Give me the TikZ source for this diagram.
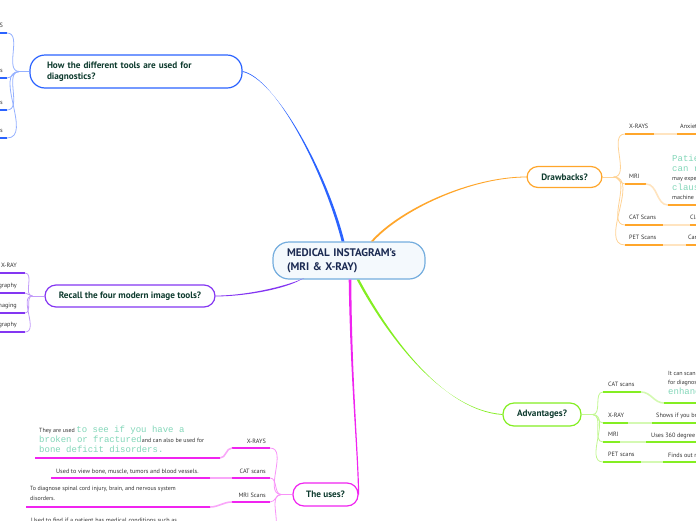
\documentclass[tikz,border=0pt]{standalone}
\usepackage{fontspec}
\setmainfont{PT Sans}
\setmonofont{Liberation Mono}
\usetikzlibrary{positioning, calc}
\definecolor{MapBlue}{HTML}{2B63FF}
\definecolor{MapViolet}{HTML}{8436F2}
\definecolor{MapOrange}{HTML}{FFA62B}
\definecolor{MapLime}{HTML}{84EE22}
\definecolor{MapPink}{HTML}{F024F0}
\definecolor{CoreBlue}{HTML}{74ADDE}
\definecolor{CoreFill}{HTML}{F4F9FD}
\definecolor{CoreInk}{HTML}{1B2A52}
\definecolor{TopicInk}{HTML}{0E3B2E}
\definecolor{LeafInk}{HTML}{333333}
\definecolor{CodeGreen}{HTML}{82D6B8}

\tikzset{
  core/.style={draw=CoreBlue, line width=1.2pt, fill=CoreFill, rounded corners=16pt,
    text width=124pt, inner xsep=14pt, inner ysep=0pt, minimum height=37pt, align=left,
    font=\bfseries\fontsize{11}{14}\selectfont, text=CoreInk},
  topic/.style={draw, line width=1.2pt, fill=white, rounded corners=11pt, inner sep=0pt,
    font=\bfseries\fontsize{9.2}{11}\selectfont, text=TopicInk, align=center},
  leaf/.style={anchor=base west, inner sep=0pt, font=\fontsize{6.2}{7.5}\selectfont, text=LeafInk},
  leafr/.style={leaf, anchor=base east},
  note/.style={leaf, align=left, font=\fontsize{6}{10}\selectfont},
  under/.style={line width=1.6pt},
  twig/.style={line width=0.8pt},
}
\newcommand{\code}[1]{{\ttfamily\fontsize{9}{10}\selectfont\color{CodeGreen}#1}}

\begin{document}
\begin{tikzpicture}[x=1pt, y=-1pt]
\useasboundingbox (0,0) rectangle (696,520);

% main topics
\node[core] (core) at (349,260.5) {MEDICAL INSTAGRAM's\\(MRI \& X-RAY)};
\node[topic, draw=MapBlue, text width=178pt, inner xsep=17pt, minimum height=33pt, align=left, rounded corners=15pt] (diag) at (136,71.5) {How the different tools are used for\\diagnostics?};
\node[topic, draw=MapViolet, minimum width=170pt, minimum height=22pt] (recall) at (130,296) {Recall the four modern image tools?};
\node[topic, draw=MapOrange, minimum width=75pt, minimum height=21pt] (drawb) at (564.5,177) {Drawbacks?};
\node[topic, draw=MapLime, minimum width=78pt, minimum height=23pt] (adv) at (542,414.5) {Advantages?};
\node[topic, draw=MapPink, minimum width=65pt, minimum height=23pt] (uses) at (325.5,494.5) {The uses?};

% branches, thick at the centre and thin at the topic
\fill[MapBlue] ($(core.north)+(-7.4,0)$) .. controls (323.6,170) and (275,77.6) .. ($(diag.east)+(0,-0.4)$)
  -- ($(diag.east)+(0,0.4)$) .. controls (275,78.4) and (326.4,170) .. ($(core.north)+(-4.6,0)$) -- cycle;
\fill[MapViolet] ($(core.south)+(-45,-1.5)$) .. controls (285,286.8) and (245,295.6) .. ($(recall.east)+(0,-0.4)$)
  -- ($(recall.east)+(0,0.4)$) .. controls (245,296.4) and (285,289.2) .. ($(core.south)+(-47,-0.5)$) -- cycle;
\fill[MapOrange] ($(core.north)+(21.8,0)$) .. controls (399,209.2) and (470,176.6) .. ($(drawb.west)+(0,-0.4)$)
  -- ($(drawb.west)+(0,0.4)$) .. controls (470,177.4) and (401,210.8) .. ($(core.north)+(24.2,0)$) -- cycle;
\fill[MapLime] ($(core.south)+(7.7,0)$) .. controls (384,330.6) and (440,409.6) .. ($(adv.west)+(0,-0.4)$)
  -- ($(adv.west)+(0,0.4)$) .. controls (440,410.4) and (386,329.4) .. ($(core.south)+(10.3,0)$) -- cycle;
\fill[MapPink] ($(core.south)+(-0.3,0)$) .. controls (350.2,380) and (357.5,450) .. ($(uses.east)+(-0.6,0)$)
  -- ($(uses.east)+(0.6,0)$) .. controls (358.5,450) and (351.8,380) .. ($(core.south)+(2.3,0)$) -- cycle;

% how the tools are used
\coordinate (bj) at ($(diag.west)+(-10,0)$);
\draw[MapBlue!50, twig] (diag.west) -- (bj);
\foreach \y/\txt [count=\i] in {33/X-RAYS, 78/CAT Scans, 110/MRI Scans, 138/PET Scans}{
  \coordinate (b\i) at (7,\y);
  \node[leafr] (bt\i) at (3,\y-6) {\txt};
  \draw[MapBlue, under] (b\i) -- ++(-12,0);
  \draw[MapBlue!50, twig] (bj) to[out=180,in=0] (b\i);
}

% recall the tools
\coordinate (rj) at ($(recall.west)+(-12,0)$);
\draw[MapViolet!50, twig] (recall.west) -- (rj);
\foreach \y/\txt [count=\i] in {273/X-RAY, 293/Computed Tomography, 313/Magnetic Resonance Imaging, 332/Positron Emission Tomography}{
  \coordinate (r\i) at (25,\y);
  \node[leafr] (rt\i) at (17,\y-6) {\txt};
  \draw[MapViolet, under] (r\i) -- ++(-30,0);
  \draw[MapViolet!50, twig] (rj) to[out=180,in=0] (r\i);
}

% drawbacks
\coordinate (dj) at ($(drawb.east)+(11,0)$);
\draw[MapOrange!50, twig] (drawb.east) -- (dj);
\foreach \y/\txt/\a/\b [count=\i] in {134/X-RAYS/654/677, 184/MRI/646/668, 225/CAT Scans/663/690, 245/PET Scans/663/686}{
  \coordinate (d\i) at (625,\y);
  \node[leaf] (dt\i) at (629,\y-6) {\txt};
  \draw[MapOrange, under] (d\i) -- (\a,\y);
  \draw[MapOrange!50, twig] (dj) to[out=0,in=180] (d\i);
}
\draw[MapOrange!30, under] (654,134) -- (677,134);
\draw[MapOrange!30, under] (646,184) to[out=0,in=180] (668,205);
\draw[MapOrange!30, under] (663,225) -- (690,225);
\draw[MapOrange!30, under] (663,245) -- (686,245);
\draw[MapOrange, under] (677,134) -- (700,134);
\draw[MapOrange, under] (668,205) -- (700,205);
\draw[MapOrange, under] (690,225) -- (700,225);
\draw[MapOrange, under] (686,245) -- (700,245);
\node[leaf] (dn1) at (680,128) {Anxiety};
\node[note, anchor=north west, font=\fontsize{6}{9.5}\selectfont] (dn2) at (672,155) {\code{Patients}\\\code{can rarely}\\may experience\\\code{claustrophobia}\\machine};
\node[leaf] (dn3) at (690,219) {Claustrophobia};
\node[leaf] (dn4) at (688,239) {Can be costly};

% advantages
\coordinate (aj) at ($(adv.east)+(11,0)$);
\draw[MapLime!50, twig] (adv.east) -- (aj);
\foreach \y/\txt/\a [count=\i] in {392/CAT scans/641, 423/X-RAY/628, 442/MRI/620, 462/PET scans/641}{
  \coordinate (a\i) at (603,\y);
  \node[leaf] (at\i) at (608,\y-6) {\txt};
  \draw[MapLime, under] (a\i) -- (\a,\y);
  \draw[MapLime!50, twig] (aj) to[out=0,in=180] (a\i);
}
\draw[MapLime!35, under] (641,392) to[out=0,in=180] (664,403);
\draw[MapLime!35, under] (628,423) -- (652,423);
\draw[MapLime!35, under] (620,442) -- (646,442);
\draw[MapLime!35, under] (641,462) -- (663,462);
\draw[MapLime, under] (664,403) -- (700,403);
\draw[MapLime, under] (652,423) -- (700,423);
\draw[MapLime, under] (646,442) -- (700,442);
\draw[MapLime, under] (663,462) -- (700,462);
\node[note, anchor=north west, font=\fontsize{6}{9.5}\selectfont] (an1) at (668,371) {It can scan soft tissue\\for diagnosis\\\code{enhanced}};
\node[leaf] (an2) at (656,417) {Shows if you broke a bone};
\node[leaf] (an3) at (651,437) {Uses 360 degree imaging};
\node[leaf] (an4) at (668,457) {Finds out rapidly};

% the uses
\coordinate (uj) at ($(uses.west)+(-11,0)$);
\draw[MapPink!50, twig] (uses.west) -- (uj);
\foreach \y/\txt [count=\i] in {448/X-RAYS, 478/CAT scans, 502/MRI Scans, 532/PET scans}{
  \coordinate (u\i) at (270,\y);
  \node[leafr] (ut\i) at (266,\y-5) {\txt};
  \draw[MapPink, under] (u\i) -- ++(-38,0);
  \draw[MapPink!50, twig] (uj) to[out=180,in=0] (u\i);
}
\draw[MapPink!40, under] (232,448) to[out=180,in=0] (220,458);
\draw[MapPink!40, under] (232,478) -- (210,478);
\draw[MapPink!40, under] (232,502) to[out=180,in=0] (210,507);
\draw[MapPink, under] (220,458) -- (35,458);
\draw[MapPink, under] (210,478) -- (51,478);
\draw[MapPink, under] (210,507) -- (26,507);
\node[note, anchor=north west] (un1) at (39,426) {They are used \code{to see if you have a}\\\code{broken or fractured}and can also be used for\\\code{bone deficit disorders.}};
\node[leaf] (un2) at (56,473) {Used to view bone, muscle, tumors and blood vessels.};
\node[note, anchor=north west] (un3) at (30,486) {To diagnose spinal cord injury, brain, and nervous system\\disorders.};
\node[leaf] (un4) at (31,522) {Used to find if a patient has medical conditions such as};
\end{tikzpicture}
\end{document}
